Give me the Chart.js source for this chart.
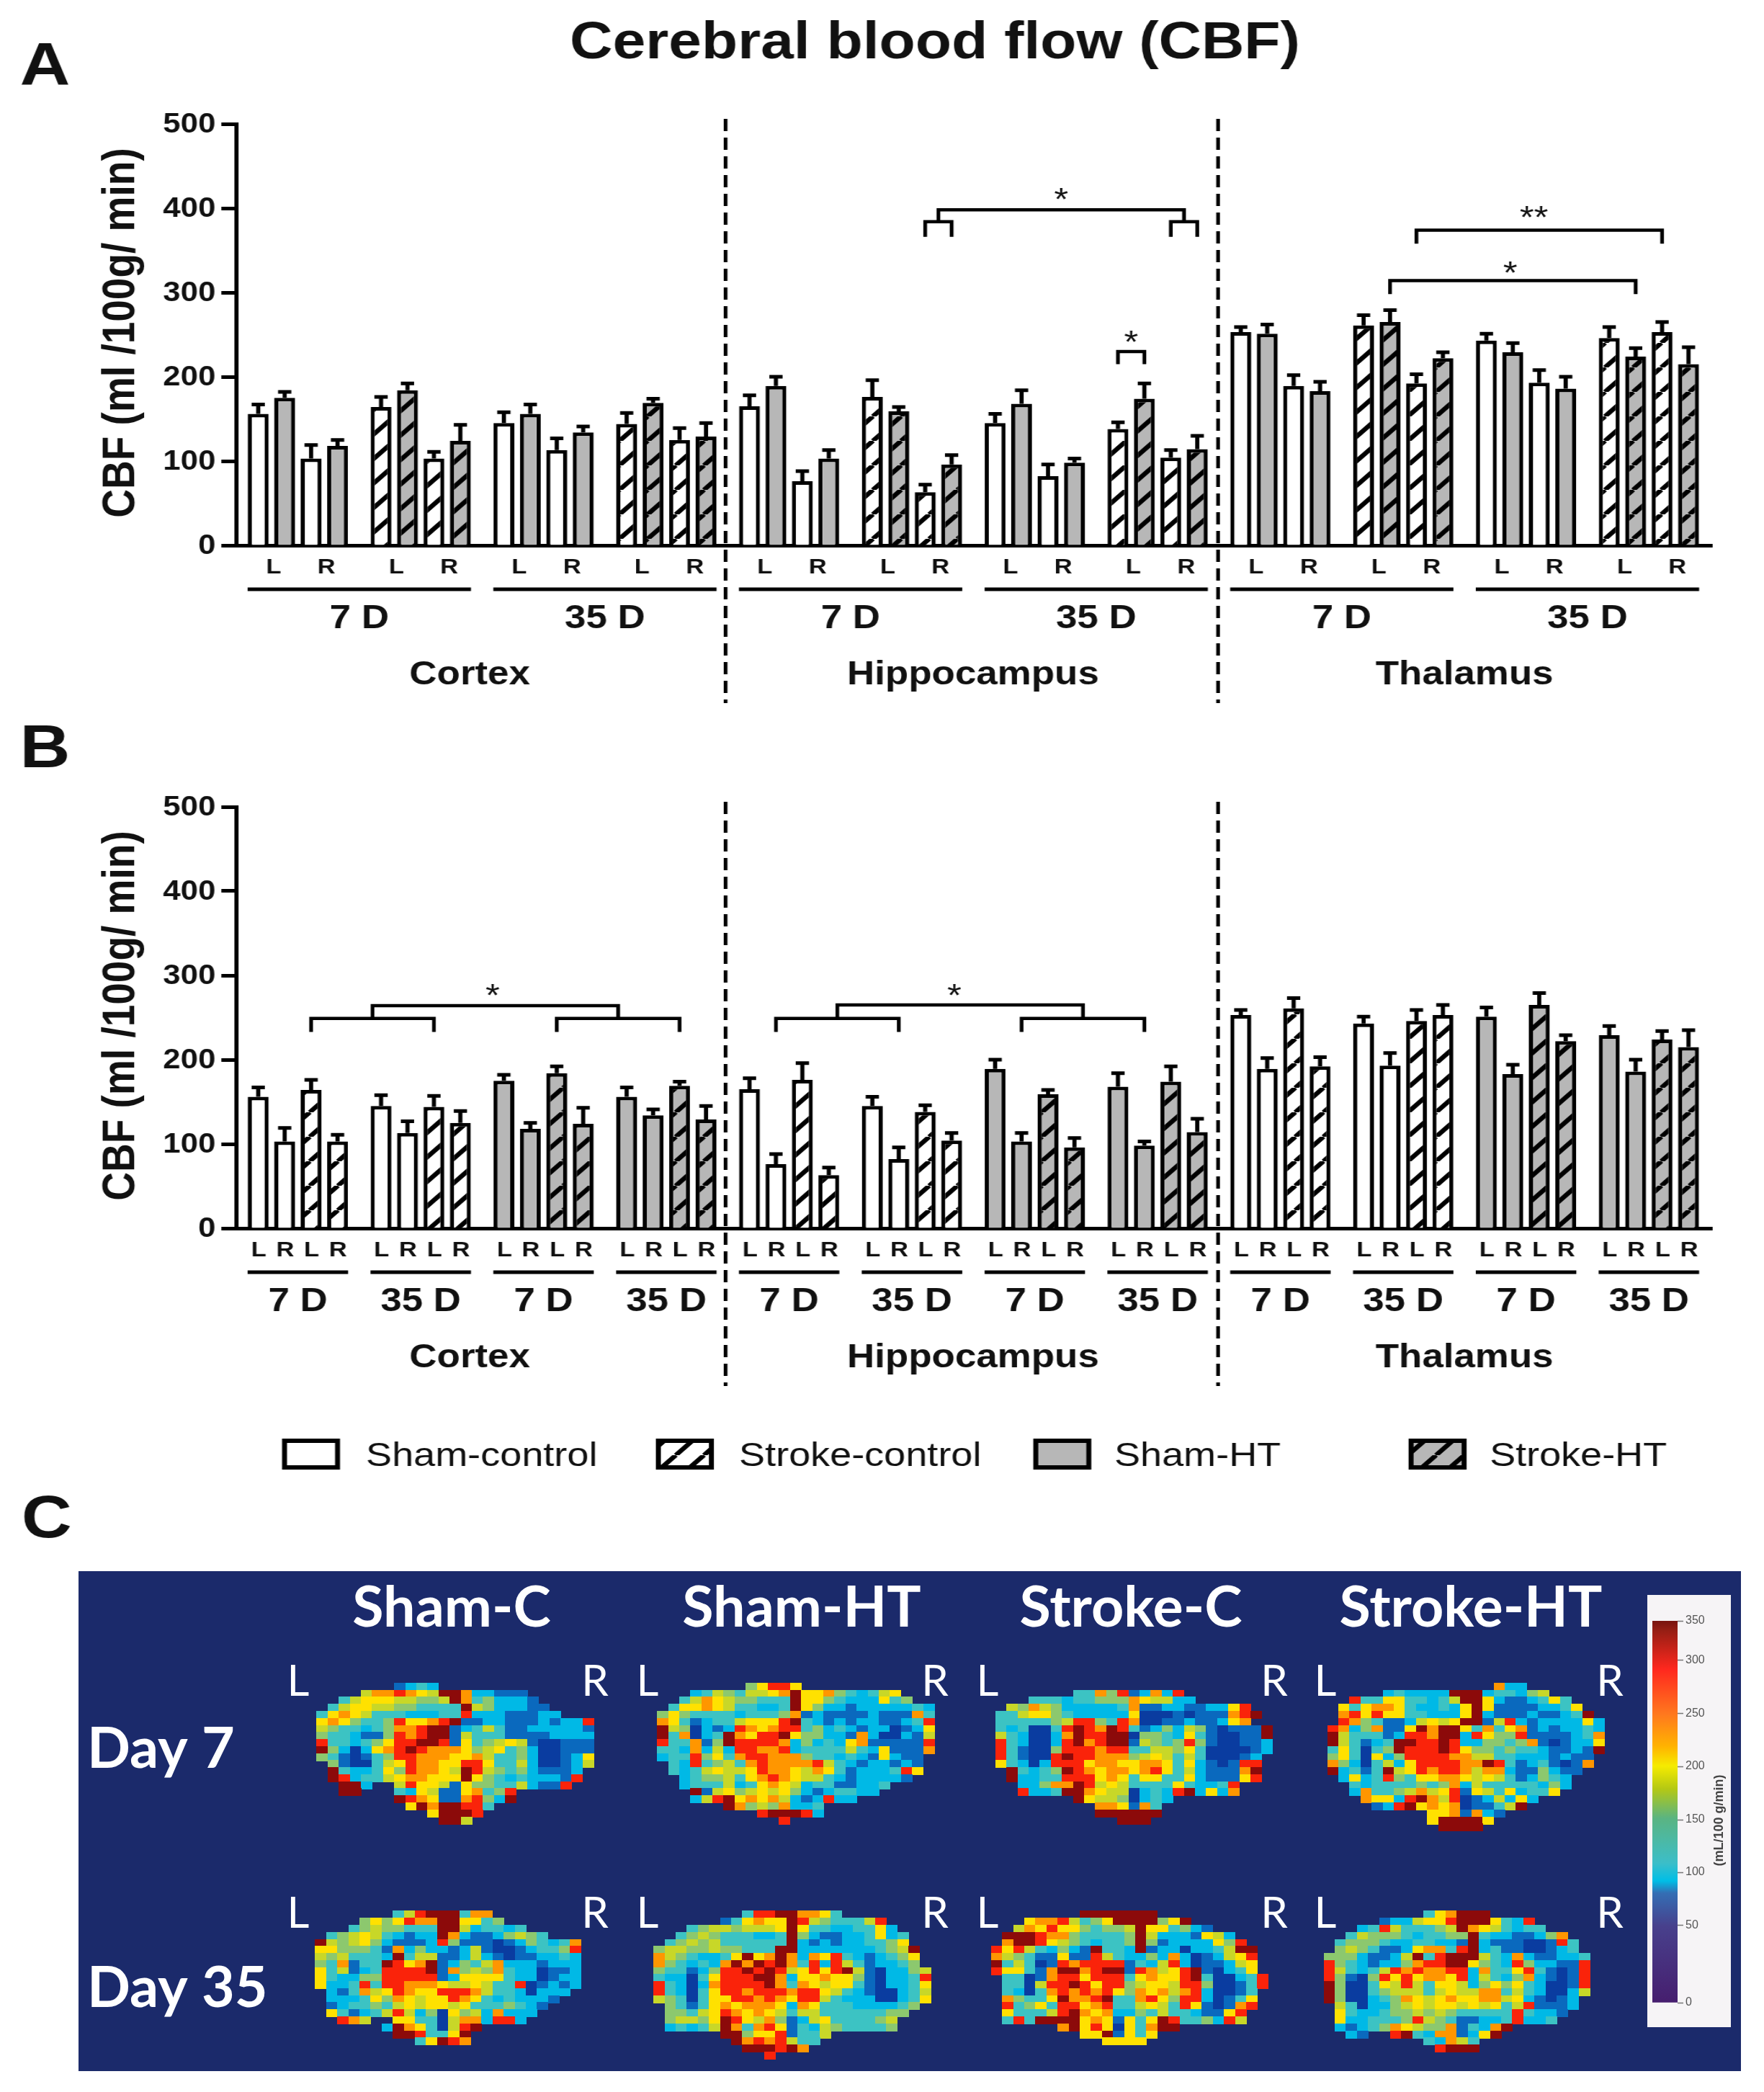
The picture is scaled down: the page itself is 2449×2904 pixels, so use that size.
<!DOCTYPE html>
<html>
<head>
<meta charset="utf-8">
<title>Cerebral blood flow (CBF)</title>
<script src="https://cdn.jsdelivr.net/npm/chart.js@4"></script>
<style>
  html, body { margin: 0; padding: 0; background: #fff; }
  #page { position: relative; width: 2449px; height: 2904px; overflow: hidden; }
  .wrap { position: absolute; }
  .wide { transform-origin: 0 0; }
  canvas { display: block; filter: blur(0.6px); }
</style>
</head>
<body>
<div id="page">
  <div class="wrap wide" id="wrapA"><canvas id="chartA"></canvas></div>
  <div class="wrap wide" id="wrapB"><canvas id="chartB"></canvas></div>
  <div class="wrap" id="wrapC"><canvas id="chartC"></canvas></div>
  <div class="wrap" id="wrapBar"><canvas id="chartBar"></canvas></div>
</div>
<script>
// values per region: cortex, hippocampus, thalamus, each [L 7d, R 7d, L 35d, R 35d]
const shamControl = [156, 103, 145, 113, 165, 76, 145, 82, 253, 189, 243, 193];
const strokeControl = [164, 103, 144, 125, 176, 63, 138, 104, 261, 192, 246, 253];
const shamHT = [175, 118, 156, 134, 189, 103, 168, 98, 251, 183, 229, 186];
const strokeHT = [184, 124, 169, 129, 159, 96, 174, 114, 265, 222, 224, 215];

const shamControlErr = [11, 16, 13, 14, 13, 12, 11, 14, 6, 13, 8, 15];
const strokeControlErr = [12, 8, 13, 14, 20, 9, 8, 9, 12, 11, 13, 12];
const shamHTErr = [7, 7, 11, 7, 11, 10, 16, 5, 11, 11, 11, 14];
const strokeHTErr = [8, 19, 5, 16, 5, 11, 18, 16, 14, 7, 10, 20];

const regions = ['Cortex', 'Hippocampus', 'Thalamus'];
const regionCentres = [8.0, 27.04, 45.63];
const dividers = [17.68, 36.31];
const yTicks = [0, 100, 200, 300, 400, 500];
const legendLabels = ['Sham-control', 'Stroke-control', 'Sham-HT', 'Stroke-HT'];

// brackets: bars to join, top of the bracket and foot of each leg
const bracketsA = [
  { a: [22], b: [23], top: 384, foot: 366 },
  { a: [30], b: [31], top: 384, foot: 366 },
  { a: [22, 23], b: [30, 31], top: 398, foot: 384 },
  { a: [28], b: [29], top: 230, foot: 215 },
  { a: [38], b: [46], top: 374, foot: 358 },
  { a: [37], b: [45], top: 314, foot: 298 }
];
const starsA = [
  { at: [22.5, 30.5], y: 418, text: '*' },
  { at: [28, 29], y: 249, text: '*' },
  { at: [38, 45.6], y: 397, text: '**' },
  { at: [37, 44.8], y: 331, text: '*' }
];
const bracketsB = [
  { a: [2], b: [6], top: 249, foot: 233 },
  { a: [10], b: [14], top: 249, foot: 233 },
  { a: [2, 6], b: [10, 14], top: 264, foot: 249 },
  { a: [17], b: [21], top: 249, foot: 233 },
  { a: [25], b: [29], top: 249, foot: 233 },
  { a: [17, 21], b: [25, 29], top: 265, foot: 249 }
];
const starsB = [
  { at: [4, 11.8], y: 284, text: '*' },
  { at: [19, 27.2], y: 284, text: '*' }
];

// brain maps: one character per cell, colour class 0 (low) to 9 (high), '.' outside the slice
const shamCDay7 = [
  '.......1232',
  '....577876599722111',
  '..356665544597342221',
  '.35665544333395422211',
  '3676533322233822211122',
  '6764334866789112211121228',
  '5433234778991235311222221',
  '4332114878991533311112222',
  '8332346889981634565100111',
  '9420267898777645634200111',
  '4310134887776675334200126',
  '.410035687766886335200125',
  '.93223648776598543421112',
  '.98233567766696432322218',
  '..992..5866516443352118',
  '..99...32651167348',
  '.......98761178429',
  '........69799883',
  '..........69998',
  '...........995'
];
const shamHTDay7 = [
  '........46886',
  '...2354355679667432356',
  '..357654433396643222634',
  '.366765332239642212222232',
  '4643333233347121111211173',
  '7631233566689321212211238',
  '9540212876788342321220126',
  '9370239768896442217200215',
  '8337149888872423267111118',
  '3327252887782333353261117',
  '233846378877743323216211',
  '.32834537877778532122121',
  '.32356556877657631222386',
  '..234453678765532122221',
  '..2333523676523311223',
  '...91564565642123322',
  '...258967675212822',
  '......974547223',
  '.........899982',
  '...........8'
];
const strokeCDay7 = [
  '',
  '.......3374812728',
  '...333233444765522',
  '.5475422222371122112268',
  '335664322222600010111789',
  '33333458843870011211267',
  '3230038987983124254101119',
  '5320027988990443263100119',
  '8320028978991543484100112',
  '8310048887883355463000012',
  '831008988777456535300012',
  '632028886776677636210188',
  '.93234987677678635211179',
  '.92233888676366336211168',
  '..22477985653333632238',
  '..82239976550232892627',
  '.......965540232',
  '.........776173',
  '.........999999',
  '...........999'
];
const strokeHTDay7 = [
  '...............722',
  '.....232222999233245',
  '..83366332359962112363',
  '.6367763223269611112236',
  '.78686633222692111211239',
  '.874311256569915821222262',
  '8724711697996373671212232',
  '9533312887992864481111237',
  '9531239988982244347101226',
  '3630349888986443433211219',
  '463062488887755332221211',
  '742035268888779831231017',
  '92313956878875772114211',
  '.262384366776565312432',
  '..32333343472533333242',
  '..2733457568165362336',
  '...7662897580125262',
  '....12896767011359',
  '.........6671721',
  '.........699996',
  '..........9999'
];
const shamCDay35 = [
  '.......358999377',
  '....4646877996634',
  '...3454433399523323',
  '.34565321229721124543',
  '954564211128411101243237',
  '664443172422125100123348',
  '545333293551125210112232',
  '437133986791243572221222',
  '635123888891745473220112',
  '632244888881266663220122',
  '622383887776556533801212',
  '.2137568766888753320222',
  '.222364765668763232221',
  '.12334356566563334321',
  '.6312358524064527222',
  '..875..663305772882',
  '......297630589',
  '.......9983369',
  '.........36987'
];
const shamHTDay35 = [
  '........388997763',
  '......136766985433358',
  '...3455455569633223362',
  '..345433322394211223623',
  '.3454533333392121223346',
  '455445443339922222223459',
  '754322369679727683212346',
  '743232797989738285312234',
  '4331248898985686895102245',
  '3220368889972667664102238',
  '8320278888973765663102236',
  '8320368878887886532100235',
  '5430366887876885322200236',
  '.43136767776276333222234',
  '.4435687676535533333344',
  '.455469865741256333345',
  '.232359737861325433334',
  '......9946681335',
  '.......97878533',
  '........999897',
  '..........8'
];
const strokeCDay35 = [
  '........9999999',
  '...677853469999469',
  '..576866434459663421',
  '.999877433334952221652',
  '.7998654323349412222648',
  '868532421933291220223599',
  '754311611853224272012568',
  '935301878888132582011256',
  '866317997899187568910236',
  '.330178868883676689300238',
  '.330588986884566588400138',
  '.32037878786476757820013',
  '.74336977893378648820136',
  '.83463886783356538610178',
  '.6333589767224353321168',
  '.3839999676163698334285',
  '......79686063799',
  '........6691636',
  '..........6666'
];
const strokeHTDay35 = [
  '.........367999',
  '.....12256689996328',
  '...23853334597653233',
  '..35444323344932211247',
  '.3444322332219211100183',
  '.4543112677389231100123',
  '444211259389995327211223',
  '843212247889964328422118',
  '853235878778827336831018',
  '841048686776825324721018',
  '940036585366524646320018',
  '940034555356557735320025',
  '94002347656766775621012',
  '.5302245656656563581112',
  '.632234454543333383221',
  '.62233348543112238223',
  '.2123476544713279',
  '..21..8932771269',
  '.........32753',
  '..........8999'
];

const cellColours = ['#0a3ca0', '#0a69be', '#00b9e6', '#3cc3c3', '#8cc86e',
  '#c8d728', '#ffe100', '#ff9600', '#fa230a', '#8c0a0a'];

const mapColumns = ['Sham-C', 'Sham-HT', 'Stroke-C', 'Stroke-HT'];
const mapRows = ['Day 7', 'Day 35'];

// colour bar: tick labels and their height on the bar, the printed bar is not linear
const barTickLabels = [0, 50, 100, 150, 200, 250, 300, 350];
const barTickHeights = [0, 107, 181, 254, 328, 401, 475, 530];
const barStops = [0, 0.2, 0.287, 0.319, 0.366, 0.483, 0.56, 0.62, 0.67, 0.756, 0.873, 0.975, 1];
const barColours = ['#461e6e', '#48408c', '#346eb4', '#00bee6', '#3cbec8', '#5ab482', '#b4c814',
  '#f5eb00', '#ffb400', '#ff781e', '#ff281e', '#961e14', '#78140f'];

// ---- layout, in page pixels
const PAGE_W = 2449;
const STRETCH = PAGE_W / 2130;    // the original figure is about 15% wider than tall
const AXIS_LEFT = 328, AXIS_RIGHT = 2377;
const FIRST_BAR = 358.5, BAR_STEP = 36.7;
const GROUP_GAP = 0.646;
const FONT = '"Liberation Sans", Arial, sans-serif';
const INK = '#111';

function barPos(i) {
  return i + Math.floor(i / 4) * GROUP_GAP;
}
function mean(list) {
  return list.reduce((s, v) => s + barPos(v), 0) / list.length;
}

function hatch(fill) {
  const size = 34;
  const tile = document.createElement('canvas');
  tile.width = size;
  tile.height = size;
  const c = tile.getContext('2d');
  c.fillStyle = fill;
  c.fillRect(0, 0, size, size);
  c.strokeStyle = '#000';
  c.lineWidth = 6;
  [-size, 0, size].forEach(o => {
    c.beginPath();
    c.moveTo(o, size);
    c.lineTo(o + size, 0);
    c.stroke();
  });
  return c.createPattern(tile, 'repeat');
}

const WHITE = '#fff', GREY = '#b7b7b7';
const fills = [WHITE, hatch(WHITE), GREY, hatch(GREY)];

function text(ctx, str, x, y, font, align, color) {
  ctx.font = font;
  ctx.textAlign = align || 'center';
  ctx.textBaseline = 'alphabetic';
  ctx.fillStyle = color || INK;
  ctx.fillText(str, x, y);
}

const errorBars = {
  id: 'errorBars',
  afterDatasetsDraw(chart) {
    const { ctx, scales } = chart;
    ctx.save();
    ctx.strokeStyle = '#000';
    ctx.lineWidth = 5;
    chart.data.datasets.forEach((ds, d) => {
      chart.getDatasetMeta(d).data.forEach((bar, i) => {
        const top = scales.y.getPixelForValue(ds.data[i].y);
        const end = scales.y.getPixelForValue(ds.data[i].y + ds.errors[i]);
        ctx.beginPath();
        ctx.moveTo(bar.x, top);
        ctx.lineTo(bar.x, end);
        ctx.moveTo(bar.x - 8, end);
        ctx.lineTo(bar.x + 8, end);
        ctx.stroke();
      });
    });
    ctx.restore();
  }
};

function decor(opts) {
  return {
    id: 'decor',
    afterDraw(chart) {
      const { ctx, scales: { x, y } } = chart;
      const zero = y.getPixelForValue(0);
      ctx.save();

      // axis title
      ctx.save();
      ctx.translate(164 / STRETCH, zero - 295);
      ctx.rotate(-Math.PI / 2);
      text(ctx, 'CBF (ml /100g/ min)', 0, 19, 'bold 55px ' + FONT);
      ctx.restore();

      // lines under L/R and day labels
      ctx.strokeStyle = '#000';
      ctx.lineWidth = 5;
      opts.spans.forEach(s => {
        const left = x.getPixelForValue(barPos(s.from) - 0.4);
        const right = x.getPixelForValue(barPos(s.to) + 0.4);
        ctx.beginPath();
        ctx.moveTo(left, zero + 61);
        ctx.lineTo(right, zero + 61);
        ctx.stroke();
        text(ctx, s.label, (left + right) / 2, zero + 115, 'bold 46px ' + FONT);
      });
      regions.forEach((r, i) => {
        text(ctx, r, x.getPixelForValue(regionCentres[i]), zero + 193, 'bold 46px ' + FONT);
      });

      // dashed dividers
      ctx.lineWidth = 4.5;
      ctx.setLineDash([17, 9]);
      dividers.forEach(v => {
        const px = x.getPixelForValue(v);
        ctx.beginPath();
        ctx.moveTo(px, zero - 592);
        ctx.lineTo(px, zero + 219);
        ctx.stroke();
      });
      ctx.setLineDash([]);

      // significance brackets
      ctx.lineWidth = 4.5;
      opts.brackets.forEach(b => {
        const left = x.getPixelForValue(mean(b.a));
        const right = x.getPixelForValue(mean(b.b));
        ctx.beginPath();
        ctx.moveTo(left, y.getPixelForValue(b.foot));
        ctx.lineTo(left, y.getPixelForValue(b.top));
        ctx.lineTo(right, y.getPixelForValue(b.top));
        ctx.lineTo(right, y.getPixelForValue(b.foot));
        ctx.stroke();
      });
      opts.stars.forEach(s => {
        const px = x.getPixelForValue(mean(s.at));
        text(ctx, s.text, px, y.getPixelForValue(s.y) + 24, '44px ' + FONT);
      });

      if (opts.extra) opts.extra(ctx);
      ctx.restore();
    }
  };
}

function drawTitleA(ctx) {
  text(ctx, 'Cerebral blood flow (CBF)', 1298 / STRETCH, 81, 'bold 71.5px ' + FONT);
  text(ctx, 'A', 24, 118, 'bold 84px ' + FONT, 'left');
}

function drawLegendB(ctx) {
  text(ctx, 'B', 24, 65, 'bold 84px ' + FONT, 'left');
  text(ctx, 'C', 26, 1134, 'bold 84px ' + FONT, 'left');
  const swatchX = [395, 914, 1438, 1959];
  const labelX = [508, 1026, 1547, 2068];
  legendLabels.forEach((label, i) => {
    ctx.fillStyle = fills[i];
    ctx.fillRect(swatchX[i] / STRETCH, 1000, 64, 37);
    ctx.lineWidth = 6;
    ctx.strokeStyle = '#000';
    ctx.strokeRect(swatchX[i] / STRETCH, 1000, 64, 37);
    text(ctx, label, labelX[i] / STRETCH, 1035, '47px ' + FONT, 'left');
  });
}

// bar slot of one measurement in each panel
function slotA(series, r, d, s) {
  return (r * 2 + d) * 8 + (series >= 2 ? 1 : 0) + (series % 2 ? 4 : 0) + s * 2;
}
function slotB(series, r, d, s) {
  return r * 16 + (series >= 2 ? 8 : 0) + d * 4 + (series % 2 ? 2 : 0) + s;
}

const seriesValues = [shamControl, strokeControl, shamHT, strokeHT];
const seriesErrors = [shamControlErr, strokeControlErr, shamHTErr, strokeHTErr];

function barDatasets(slot) {
  return seriesValues.map((values, k) => ({
    label: legendLabels[k],
    data: values.map((v, n) => {
      const r = Math.floor(n / 4), d = Math.floor(n % 4 / 2), s = n % 2;
      return { x: barPos(slot(k, r, d, s)), y: v };
    }),
    errors: seriesErrors[k],
    backgroundColor: fills[k],
    borderColor: '#000',
    borderWidth: 5,
    barThickness: 29 / STRETCH,
    grouped: false,
    inflateAmount: 0
  }));
}

function barChart(id, wrapId, pageTop, height, ticks, plugin, datasets) {
  const wrap = document.getElementById(wrapId);
  wrap.style.left = '0px';
  wrap.style.top = pageTop + 'px';
  wrap.style.transform = 'scaleX(' + STRETCH + ')';
  const canvas = document.getElementById(id);
  canvas.width = 2130;
  canvas.height = height;
  const zeroY = ticks.zero - pageTop;
  return new Chart(canvas, {
    type: 'bar',
    data: { datasets },
    plugins: [errorBars, plugin],
    options: {
      responsive: false,
      animation: false,
      events: [],
      devicePixelRatio: 1,
      layout: {
        padding: {
          left: 0,
          right: 2130 - AXIS_RIGHT / STRETCH,
          top: zeroY - 585,
          bottom: 0
        }
      },
      plugins: { legend: { display: false }, tooltip: { enabled: false } },
      scales: {
        x: {
          type: 'linear',
          offset: false,
          min: (AXIS_LEFT - FIRST_BAR) / BAR_STEP,
          max: (AXIS_RIGHT - FIRST_BAR) / BAR_STEP,
          afterFit: s => { s.height = height - zeroY; },
          afterBuildTicks: s => { s.ticks = ticks.values.map(value => ({ value })); },
          grid: { display: false, offset: false },
          border: { display: true, color: '#000', width: 5 },
          ticks: {
            autoSkip: false,
            maxRotation: 0,
            padding: 5,
            color: INK,
            font: { family: FONT, size: 30, weight: 'bold' },
            callback: (v, i) => ticks.labels[i]
          }
        },
        y: {
          min: 0,
          max: 500,
          afterFit: s => { s.width = AXIS_LEFT / STRETCH; },
          afterBuildTicks: s => { s.ticks = yTicks.map(value => ({ value })); },
          grid: {
            drawOnChartArea: false,
            drawTicks: true,
            tickLength: 18,
            tickWidth: 5,
            tickColor: '#000'
          },
          border: { display: true, color: '#000', width: 5 },
          ticks: {
            padding: 7,
            labelOffset: 2,
            color: INK,
            font: { family: FONT, size: 38, weight: 'bold' }
          }
        }
      }
    }
  });
}

// L/R ticks
const ticksAValues = [], ticksALabels = [];
for (let i = 0; i < 48; i += 2) {
  ticksAValues.push((barPos(i) + barPos(i + 1)) / 2 + 0.08);
  ticksALabels.push(i % 4 === 0 ? 'L' : 'R');
}
const ticksBValues = [], ticksBLabels = [];
for (let i = 0; i < 48; i++) {
  ticksBValues.push(barPos(i) + 0.02);
  ticksBLabels.push(i % 2 === 0 ? 'L' : 'R');
}

const spansA = [], spansB = [];
for (let g = 0; g < 6; g++) {
  spansA.push({ from: g * 8, to: g * 8 + 7, label: g % 2 ? '35 D' : '7 D' });
}
for (let g = 0; g < 12; g++) {
  spansB.push({ from: g * 4, to: g * 4 + 3, label: g % 2 ? '35 D' : '7 D' });
}

window.addEventListener('load', () => {
  barChart('chartA', 'wrapA', 0, 1000,
    { zero: 757, values: ticksAValues, labels: ticksALabels },
    decor({ spans: spansA, brackets: bracketsA, stars: starsA, extra: drawTitleA }),
    barDatasets(slotA));

  barChart('chartB', 'wrapB', 1000, 1160,
    { zero: 1705, values: ticksBValues, labels: ticksBLabels },
    decor({ spans: spansB, brackets: bracketsB, stars: starsB, extra: drawLegendB }),
    barDatasets(slotB));

  drawMaps();
  drawColourBar();
});

// ---- panel C
function drawMaps() {
  const panel = { left: 109, top: 2181, width: 2308, height: 694 };
  const cellW = 15.5, cellH = 10;
  const grids = [shamCDay7, shamHTDay7, strokeCDay7, strokeHTDay7,
    shamCDay35, shamHTDay35, strokeCDay35, strokeHTDay35];
  const gridLeft = [434, 910, 1383, 1847, 432, 905, 1377, 1842];
  const gridTop = [2332, 2332, 2332, 2332, 2656, 2656, 2656, 2656];

  const tiles = cellColours.map(colour => {
    const t = document.createElement('canvas');
    t.width = Math.ceil(cellW);
    t.height = cellH + 1;
    const c = t.getContext('2d');
    c.fillStyle = colour;
    c.fillRect(0, 0, t.width, t.height);
    return t;
  });

  const datasets = grids.map((rows, g) => {
    const data = [];
    rows.forEach((row, r) => {
      [...row].forEach((ch, col) => {
        if (ch === '.') return;
        data.push({
          x: (gridLeft[g] - panel.left) / cellW + col + 0.5,
          y: (gridTop[g] - panel.top) / cellH + r + 0.5,
          code: +ch
        });
      });
    });
    return {
      label: (g < 4 ? mapRows[0] : mapRows[1]) + ' ' + mapColumns[g % 4],
      data,
      pointRadius: 8,
      pointHoverRadius: 8,
      pointBorderWidth: 0,
      pointStyle: ctx => tiles[ctx.raw ? ctx.raw.code : 0]
    };
  });

  const labels = {
    id: 'mapLabels',
    afterDraw(chart) {
      const ctx = chart.ctx;
      const heading = 'bold 79px Lato, sans-serif';
      const thin = '60px Lato, sans-serif';
      const xOff = v => v - panel.left;
      const yOff = v => v - panel.top;
      [627, 1113, 1570, 2042].forEach((cx, i) => {
        text(ctx, mapColumns[i], xOff(cx), yOff(2258), heading, 'center', '#fff');
      });
      [2454, 2786].forEach((by, i) => {
        text(ctx, mapRows[i], xOff(121), yOff(by), heading, 'left', '#fff');
      });
      const lX = [414, 899, 1371, 1840], rX = [826, 1298, 1769, 2235];
      [2354, 2676].forEach(by => {
        lX.forEach(px => text(ctx, 'L', xOff(px), yOff(by), thin, 'center', '#fff'));
        rX.forEach(px => text(ctx, 'R', xOff(px), yOff(by), thin, 'center', '#fff'));
      });
    }
  };

  const wrap = document.getElementById('wrapC');
  wrap.style.left = panel.left + 'px';
  wrap.style.top = panel.top + 'px';
  wrap.style.background = '#1b2a6b';
  const canvas = document.getElementById('chartC');
  canvas.width = panel.width;
  canvas.height = panel.height;
  new Chart(canvas, {
    type: 'scatter',
    data: { datasets },
    plugins: [labels],
    options: {
      responsive: false,
      animation: false,
      events: [],
      devicePixelRatio: 1,
      layout: { padding: 0 },
      plugins: { legend: { display: false }, tooltip: { enabled: false } },
      scales: {
        x: { display: false, min: 0, max: panel.width / cellW },
        y: { display: false, min: 0, max: panel.height / cellH, reverse: true }
      }
    }
  });
}

function drawColourBar() {
  const box = { left: 2287, top: 2214, width: 116, height: 600 };
  const wrap = document.getElementById('wrapBar');
  wrap.style.left = box.left + 'px';
  wrap.style.top = box.top + 'px';
  wrap.style.background = '#f6f4f6';
  const canvas = document.getElementById('chartBar');
  canvas.width = box.width;
  canvas.height = box.height;
  const topHeight = barTickHeights[barTickHeights.length - 1];
  const barTitle = {
    id: 'barTitle',
    afterDraw(chart) {
      const ctx = chart.ctx;
      ctx.save();
      ctx.translate(99, 313);
      ctx.rotate(-Math.PI / 2);
      text(ctx, '(mL/100 g/min)', 0, 6, 'bold 18px ' + FONT, 'center', '#444');
      ctx.restore();
    }
  };
  new Chart(canvas, {
    type: 'bar',
    data: {
      labels: ['CBF'],
      datasets: [{
        data: [topHeight],
        barPercentage: 1,
        categoryPercentage: 1,
        backgroundColor: ctx => {
          const area = ctx.chart.chartArea;
          if (!area) return '#000';
          const g = ctx.chart.ctx.createLinearGradient(0, area.bottom, 0, area.top);
          barStops.forEach((s, i) => g.addColorStop(s, barColours[i]));
          return g;
        }
      }]
    },
    plugins: [barTitle],
    options: {
      responsive: false,
      animation: false,
      events: [],
      devicePixelRatio: 1,
      layout: { padding: { left: 7, right: 0, top: 36, bottom: 34 } },
      plugins: { legend: { display: false }, tooltip: { enabled: false } },
      scales: {
        x: { display: false },
        y: {
          position: 'right',
          min: 0,
          max: topHeight,
          afterFit: s => { s.width = 74; },
          afterBuildTicks: s => { s.ticks = barTickHeights.map(value => ({ value })); },
          grid: { drawOnChartArea: false, tickLength: 8, tickWidth: 1.5, tickColor: '#777' },
          border: { display: false },
          ticks: {
            padding: 3,
            color: '#555',
            font: { family: FONT, size: 16 },
            callback: (v, i) => barTickLabels[i]
          }
        }
      }
    }
  });
}
</script>
</body>
</html>
